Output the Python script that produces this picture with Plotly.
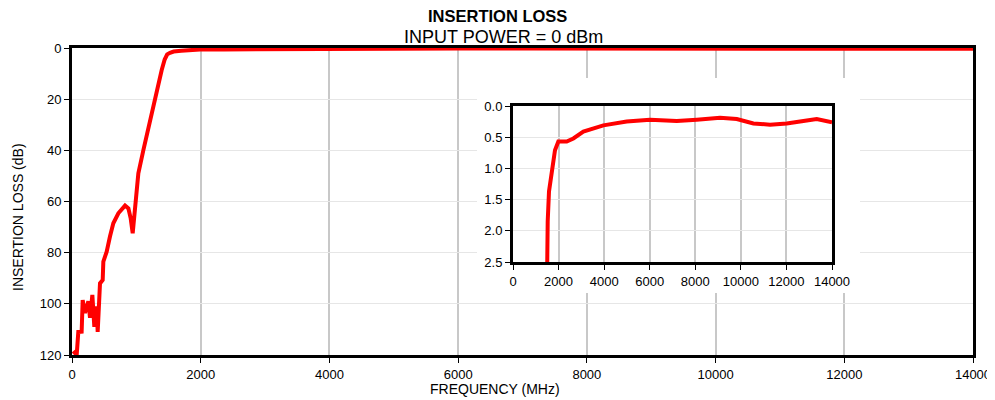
import plotly.graph_objects as go

# ---- data ----
freq_mhz = [20, 73, 98, 150, 166, 202, 254, 280, 316, 347, 383, 399, 435, 477, 487,
            539, 590, 642, 720, 824, 876, 912, 943, 979, 1031, 1109, 1213, 1316, 1394,
            1440, 1479, 1523, 1580, 1697, 1843, 1990, 2356, 2649, 3088, 3966, 4990,
            6014, 7186, 8064, 9087, 9820, 10550, 11281, 12013, 12745, 13330, 14000]
loss_db = [118.5, 120, 111, 110.9, 98.5, 103.6, 99, 105.5, 96.5, 109, 101, 111, 92, 90.7, 83.5,
           79.6, 73.7, 68.5, 64.6, 61.6, 62.7, 66.6, 72.4, 62, 49, 39.9, 28.1, 16.4, 8.6,
           4.5, 2.49, 1.85, 1.37, 1.05, 0.71, 0.57, 0.57, 0.52, 0.41, 0.31, 0.25,
           0.22, 0.24, 0.22, 0.19, 0.21, 0.28, 0.30, 0.28, 0.24, 0.21, 0.26]

main_x_ticks = [0, 2000, 4000, 6000, 8000, 10000, 12000, 14000]
main_x_labels = ["0", "2000", "4000", "6000", "8000", "10000", "12000", "14000"]
main_y_ticks = [0, 20, 40, 60, 80, 100, 120]
main_y_labels = ["0", "20", "40", "60", "80", "100", "120"]
inset_x_ticks = [0, 2000, 4000, 6000, 8000, 10000, 12000, 14000]
inset_x_labels = ["0", "2000", "4000", "6000", "8000", "10000", "12000", "14000"]
inset_y_ticks = [0.0, 0.5, 1.0, 1.5, 2.0, 2.5]
inset_y_labels = ["0.0", "0.5", "1.0", "1.5", "2.0", "2.5"]

FONT = "Liberation Sans, Arial, sans-serif"
RED = "#ff0000"

# page body has an 8px default margin -> figure is placed at (8, 8)
W, H = 987, 392
L, R, T, B = 64, 22, 40, 45
PW, PH = W - L - R, H - T - B


def px(x):  # page x pixel -> paper
    return (x - 8 - L) / PW


def py(y):  # page y pixel -> paper
    return (H - B - (y - 8)) / PH


fig = go.Figure()

fig.add_trace(go.Scatter(x=freq_mhz, y=loss_db, mode="lines",
                         line=dict(color=RED, width=4), xaxis="x", yaxis="y",
                         showlegend=False, hoverinfo="skip"))
# empty subplot: its white background hides the main grid behind the inset
fig.add_trace(go.Scatter(x=[None], y=[None], mode="lines", xaxis="x2", yaxis="y2",
                         showlegend=False, hoverinfo="skip"))
fig.add_trace(go.Scatter(x=freq_mhz, y=loss_db, mode="lines",
                         line=dict(color=RED, width=4), xaxis="x3", yaxis="y3",
                         showlegend=False, hoverinfo="skip"))

axis_font = dict(family=FONT, size=13, color="#000000")
common = dict(showline=True, linecolor="black", linewidth=3, mirror=True,
              ticks="outside", ticklen=5, tickcolor="black", tickwidth=1,
              zeroline=False, tickfont=axis_font, automargin=False)

fig.update_layout(
    width=W, height=H,
    margin=dict(l=L, r=R, t=T, b=B),
    paper_bgcolor="white", plot_bgcolor="white",
    font=dict(family=FONT, size=13, color="#000000"),
    xaxis=dict(domain=[0, 1], range=[0, 14000], tickvals=main_x_ticks, ticktext=main_x_labels,
               showgrid=True, gridcolor="#c8c8c8", gridwidth=2, **common),
    yaxis=dict(domain=[0, 1], range=[120, 0], tickvals=main_y_ticks, ticktext=main_y_labels,
               showgrid=True, gridcolor="#e6e6e6", gridwidth=1, **common),
    xaxis2=dict(domain=[px(477), px(860)], anchor="y2", range=[0, 1],
                visible=False, showgrid=False, zeroline=False),
    yaxis2=dict(domain=[py(293), py(78)], anchor="x2", range=[0, 1],
                visible=False, showgrid=False, zeroline=False),
    xaxis3=dict(domain=[px(513), px(832)], anchor="y3", range=[0, 14000],
                tickvals=inset_x_ticks, ticktext=inset_x_labels,
                showgrid=True, gridcolor="#c8c8c8", gridwidth=2, **common),
    yaxis3=dict(domain=[py(262), py(106)], anchor="x3", range=[2.5, 0],
                tickvals=inset_y_ticks, ticktext=inset_y_labels,
                showgrid=True, gridcolor="#e6e6e6", gridwidth=1, **common),
    annotations=[
        dict(text="<b>INSERTION LOSS</b>", xref="paper", yref="paper",
             x=px(497), y=py(16.5), xanchor="center", yanchor="middle",
             showarrow=False, font=dict(family=FONT, size=16.5, color="black")),
        dict(text="INPUT POWER = 0 dBm", xref="paper", yref="paper",
             x=px(503.5), y=py(37), xanchor="center", yanchor="middle",
             showarrow=False, font=dict(family=FONT, size=18, color="black")),
        dict(text="FREQUENCY (MHz)", xref="paper", yref="paper",
             x=px(495), y=py(388.5), xanchor="center", yanchor="middle",
             showarrow=False, font=dict(family=FONT, size=14, color="black")),
        dict(text="INSERTION LOSS (dB)", xref="paper", yref="paper", textangle=-90,
             x=px(18), y=py(217), xanchor="center", yanchor="middle",
             showarrow=False, font=dict(family=FONT, size=14, color="black")),
    ],
)

fig.write_html("out.html")
